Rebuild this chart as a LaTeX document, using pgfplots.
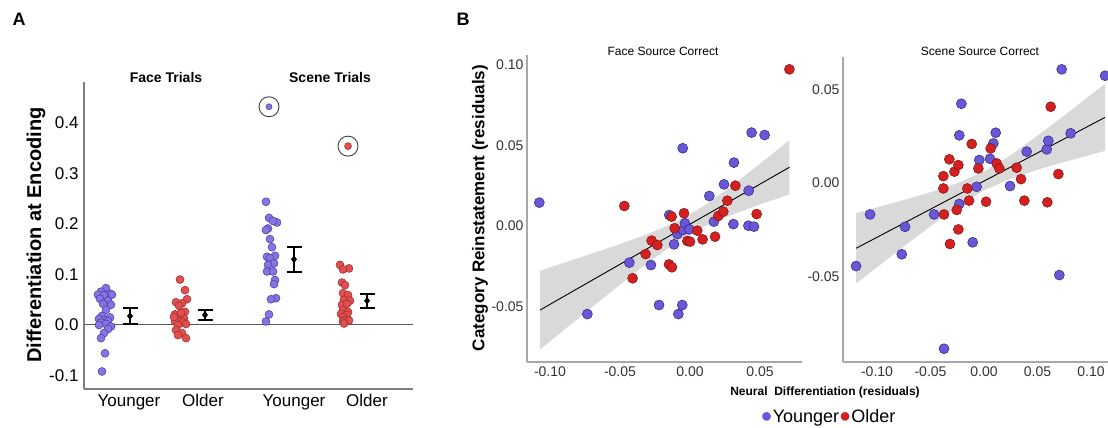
\documentclass[border=0pt]{standalone}
\usepackage{pgfplots}
\pgfplotsset{compat=1.18}
\usepackage{fontspec}
\setmainfont{Liberation Sans}
\definecolor{youngA}{HTML}{8474E4}
\definecolor{youngAedge}{HTML}{4A3AA0}
\definecolor{oldA}{HTML}{E05050}
\definecolor{oldAedge}{HTML}{A02828}
\definecolor{youngB}{HTML}{6858D8}
\definecolor{youngBedge}{HTML}{302080}
\definecolor{oldB}{HTML}{D42020}
\definecolor{oldBedge}{HTML}{801010}
\definecolor{axgray}{HTML}{A8A8A8}
\definecolor{bandgray}{HTML}{D9D9D9}
\pgfplotsset{fix2/.style={/pgf/number format/fixed, /pgf/number format/fixed zerofill, /pgf/number format/precision=2}}
\begin{document}
\begin{tikzpicture}[x=1bp,y=1bp]
\useasboundingbox (0,0) rectangle (1108,427);
% ---------------- Panel A ----------------
\begin{axis}[at={(84bp,38bp)}, anchor=south west, scale only axis,
  width=329bp, height=307bp, xmin=84, xmax=413, ymin=-0.1267, ymax=0.481,
  axis lines*=left, axis line style={-, draw=gray, line width=1.2bp},
  xtick={129,203,294,367}, xticklabels={Younger,Older,Younger,Older},
  ytick={-0.1,0,0.1,0.2,0.3,0.4},
  yticklabel style={xshift=-2bp, /pgf/number format/fixed, /pgf/number format/fixed zerofill, /pgf/number format/precision=1},
  /pgf/number format/assume math mode=true,
  major tick length=0,
  tick label style={font=\fontsize{17bp}{17bp}\selectfont},
  xticklabel style={yshift=-2bp},
  clip=false]
\addplot[gray!70!black, line width=1bp] coordinates {(84,0) (413,0)};
% Face younger
\addplot[only marks, mark=*, mark size=4bp, mark options={fill=youngA, draw=youngAedge, line width=0.5bp}] coordinates {
(106,0.073) (101,0.066) (110,0.062) (98,0.060) (104,0.059) (112,0.060) (100,0.052) (108,0.048)
(103,0.042) (111,0.040) (106,0.030) (102,0.018) (110,0.015) (99,0.012) (105,0.010) (108,0.008)
(101,0.005) (106,0.002) (111,-0.003) (99,0.000) (108,-0.008) (104,-0.016) (101,-0.026) (105,-0.056) (102,-0.092)};
% Face older
\addplot[only marks, mark=*, mark size=4bp, mark options={fill=oldA, draw=oldAedge, line width=0.5bp}] coordinates {
(180,0.090) (185,0.069) (187,0.051) (176,0.045) (182,0.043) (179,0.038) (185,0.026) (175,0.021)
(181,0.019) (177,0.014) (184,0.013) (180,0.008) (175,0.007) (183,0.005) (178,0.000) (186,0.002)
(176,-0.010) (182,-0.016) (178,-0.020) (186,-0.026) (181,0.024) (174,0.016)};
% Scene younger
\addplot[only marks, mark=*, mark size=4bp, mark options={fill=youngA, draw=youngAedge, line width=0.5bp}] coordinates {
(266,0.244) (269,0.212) (277,0.203) (268,0.191) (266,0.188) (273,0.206) (270,0.170)
(272,0.154) (267,0.135) (275,0.137) (270,0.132) (274,0.122) (268,0.119) (267,0.106) (273,0.106)
(275,0.089) (274,0.081) (276,0.053) (271,0.051) (269,0.021) (266,0.007)};
\addplot[only marks, mark=*, mark size=3bp, mark options={fill=youngA, draw=youngAedge, line width=0.5bp}] coordinates {(269,0.432)};
% Scene older
\addplot[only marks, mark=*, mark size=4bp, mark options={fill=oldA, draw=oldAedge, line width=0.5bp}] coordinates {
(340,0.119) (349,0.112) (343,0.110) (342,0.084) (345,0.079) (343,0.063) (348,0.059)
(344,0.050) (350,0.048) (342,0.040) (347,0.042) (343,0.030) (348,0.026) (341,0.022) (347,0.020)
(343,0.016) (345,0.010) (349,0.009) (343,0.007) (344,0.003)};
\addplot[only marks, mark=*, mark size=3.5bp, mark options={fill=oldA, draw=oldAedge, line width=0.5bp}] coordinates {(348,0.354)};
% outlier circles
\addplot[only marks, mark=o, mark size=10bp, mark options={draw=black!75, line width=0.9bp}] coordinates {(269,0.432) (348,0.354)};
% means and error bars
\addplot[only marks, mark=diamond*, mark size=3.5bp, black,
  error bars/.cd, y dir=both, y explicit, error mark=|,
  error bar style={line width=1.8bp, black},
  error mark options={mark size=7.5bp, line width=1.8bp, black}]
  coordinates {(130,0.0175) +- (0,0.0155) (205,0.020) +- (0,0.010) (294,0.130) +- (0,0.025) (367,0.048) +- (0,0.014)};
\end{axis}
\node[font=\bfseries\fontsize{18bp}{18bp}\selectfont] at (19,408) {A};
\node[font=\bfseries\fontsize{14bp}{14bp}\selectfont] at (166,350) {Face Trials};
\node[font=\bfseries\fontsize{14bp}{14bp}\selectfont] at (330,350) {Scene Trials};
\node[font=\bfseries\fontsize{20bp}{20bp}\selectfont, rotate=90] at (36,192) {Differentiation at Encoding};
% ---------------- Panel B left ----------------
\begin{axis}[at={(527bp,65bp)}, anchor=south west, scale only axis,
  width=275bp, height=307bp, xmin=-0.1164, xmax=0.08, ymin=-0.0843, ymax=0.106,
  axis lines*=left, axis line style={-, draw=axgray, line width=2.2bp},
  xtick={-0.1,-0.05,0,0.05}, ytick={-0.05,0,0.05,0.1},
  xticklabel style={yshift=-1bp, fix2}, yticklabel style={fix2},
  /pgf/number format/assume math mode=true,
  scaled ticks=false, major tick length=0,
  tick label style={font=\fontsize{14bp}{14bp}\selectfont, text=black!80},
  clip=false]
\addplot[fill=bandgray, draw=none] coordinates {
(-0.107,-0.0277) (-0.09,-0.0228) (-0.07,-0.0171) (-0.05,-0.0112) (-0.03,-0.0049) (-0.01,0.0025) (0.01,0.0125) (0.03,0.0249) (0.05,0.0386) (0.071,0.0532)
(0.071,0.0196) (0.05,0.0134) (0.03,0.0071) (0.01,-0.0003) (-0.01,-0.0103) (-0.03,-0.0227) (-0.05,-0.0364) (-0.07,-0.0503) (-0.09,-0.0644) (-0.107,-0.0765)} -- cycle;
\addplot[black, line width=0.9bp] coordinates {(-0.1071,-0.0521) (0.0710,0.0364)};
\addplot[only marks, mark=*, mark size=5bp, mark options={fill=youngB, draw=youngBedge, line width=0.5bp}] coordinates {
(-0.1076,0.0145) (-0.0733,-0.0546) (-0.0433,-0.0227) (-0.0279,-0.0242) (-0.0221,-0.0490) (-0.0148,0.0068)
(-0.0114,-0.0114) (-0.0090,-0.0050) (-0.0083,-0.0546) (-0.0055,-0.0490) (-0.0052,0.0482) (-0.0048,-0.0025)
(-0.0036,0.0017) (-0.0005,-0.0021) (0.0138,0.0186) (0.0171,0.0027) (0.0243,0.0258) (0.0310,0.0012)
(0.0314,0.0393) (0.0419,0.0219) (0.0417,0.0002) (0.0440,0.0579) (0.0457,-0.0004) (0.0533,0.0564)};
\addplot[only marks, mark=*, mark size=5bp, mark options={fill=oldB, draw=oldBedge, line width=0.5bp}] coordinates {
(-0.0469,0.0124) (-0.0410,-0.0324) (-0.0317,-0.0174) (-0.0274,-0.0091) (-0.0233,-0.0118) (-0.0150,-0.0238)
(-0.0129,-0.0256) (-0.0131,0.0058) (-0.0110,-0.0014) (-0.0043,0.0079) (-0.0019,-0.0093) (0.0000,-0.0097)
(0.0052,-0.0029) (0.0090,-0.0083) (0.0179,-0.0066) (0.0202,0.0062) (0.0238,0.0089) (0.0267,0.0157)
(0.0324,0.0250) (0.0476,0.0074) (0.0710,0.0971)};
\end{axis}
% ---------------- Panel B right ----------------
\begin{axis}[at={(843bp,65bp)}, anchor=south west, scale only axis,
  width=265bp, height=305bp, xmin=-0.1318, xmax=0.1159, ymin=-0.0957, ymax=0.0674,
  axis lines*=left, axis line style={-, draw=axgray, line width=2.2bp},
  xtick={-0.1,-0.05,0,0.05,0.1}, ytick={-0.05,0,0.05},
  xticklabel style={yshift=-1bp, fix2}, yticklabel style={fix2},
  /pgf/number format/assume math mode=true,
  scaled ticks=false, major tick length=0,
  tick label style={font=\fontsize{14bp}{14bp}\selectfont, text=black!80},
  clip=false]
\addplot[fill=bandgray, draw=none] coordinates {
(-0.1196,-0.0161) (-0.10,-0.0130) (-0.075,-0.0091) (-0.05,-0.0049) (-0.025,-0.0001) (0,0.0061) (0.025,0.0149) (0.05,0.0253) (0.075,0.0361) (0.10,0.0472) (0.1131,0.0530)
(0.1131,0.0172) (0.10,0.0152) (0.075,0.0113) (0.05,0.0071) (0.025,0.0023) (0,-0.0039) (-0.025,-0.0127) (-0.05,-0.0231) (-0.075,-0.0339) (-0.10,-0.0450) (-0.1196,-0.0537)} -- cycle;
\addplot[black, line width=0.9bp] coordinates {(-0.1196,-0.0349) (0.1131,0.0351)};
\addplot[only marks, mark=*, mark size=5bp, mark options={fill=youngB, draw=youngBedge, line width=0.5bp}] coordinates {
(-0.1196,-0.0444) (-0.1065,-0.0168) (-0.0769,-0.0381) (-0.0738,-0.0234) (-0.0467,-0.0168) (-0.0374,-0.0886)
(-0.0231,0.0255) (-0.0212,0.0424) (-0.0231,-0.0112) (-0.0106,-0.0317) (-0.0069,-0.0020) (-0.0044,0.0123)
(0.0056,0.0130) (0.0087,0.0212) (0.0109,0.0269) (0.0243,-0.0016) (0.0399,0.0168) (0.0586,0.0180)
(0.0601,0.0226) (0.0704,-0.0492) (0.0726,0.0608) (0.0810,0.0266) (0.1131,0.0574)};
\addplot[only marks, mark=*, mark size=5bp, mark options={fill=oldB, draw=oldBedge, line width=0.5bp}] coordinates {
(-0.0380,0.0037) (-0.0380,-0.0029) (-0.0374,-0.0168) (-0.0324,0.0127) (-0.0318,-0.0326) (-0.0277,0.0061)
(-0.0240,0.0096) (-0.0240,-0.0248) (-0.0255,-0.0144) (-0.0156,-0.0029) (-0.0140,-0.0094) (-0.0115,0.0209)
(-0.0053,0.0078) (0.0019,-0.0100) (0.0062,0.0185) (0.0118,0.0105) (0.0143,0.0078) (0.0305,0.0082)
(0.0346,0.0021) (0.0377,-0.0094) (0.0592,-0.0103) (0.0623,0.0408) (0.0695,0.0048)};
\end{axis}
\node[font=\bfseries\fontsize{18bp}{18bp}\selectfont] at (463,408) {B};
\node[font=\fontsize{12bp}{12bp}\selectfont] at (663,376) {Face Source Correct};
\node[font=\fontsize{12bp}{12bp}\selectfont] at (980,376) {Scene Source Correct};
\node[font=\bfseries\fontsize{17bp}{17bp}\selectfont, rotate=90] at (480,219) {Category Reinstatement (residuals)};
\node[font=\bfseries\fontsize{12bp}{12bp}\selectfont] at (825,35) {Neural\ \ Differentiation (residuals)};
\node[font=\fontsize{18bp}{18bp}\selectfont, inner sep=0pt] at (828,9) {\textcolor{youngB}{\fontsize{20bp}{18bp}\selectfont ●}Younger\textcolor{oldB}{\fontsize{20bp}{18bp}\selectfont ●}Older};
\end{tikzpicture}
\end{document}
